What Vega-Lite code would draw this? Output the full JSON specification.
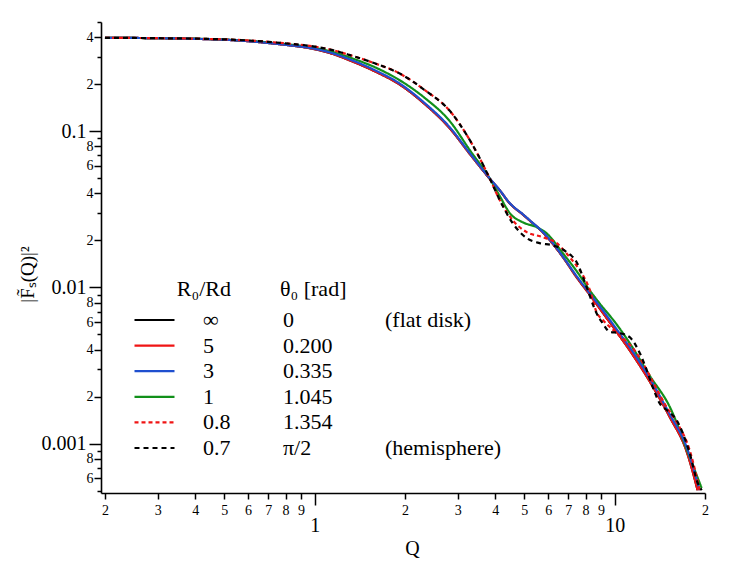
{
  "$schema": "https://vega.github.io/schema/vega-lite/v6.json",
  "width": 604,
  "height": 471,
  "autosize": {"type": "none"},
  "padding": {"left": 101, "top": 22, "right": 42, "bottom": 70},
  "background": "white",
  "config": {
    "view": {"stroke": null},
    "font": "Times New Roman",
    "style": {"guide-label": {"font": "Times New Roman"}, "guide-title": {"font": "Times New Roman"}},
    "axis": {"labelFont": "Times New Roman", "titleFont": "Times New Roman", "labelColor": "black", "titleColor": "black", "domainColor": "black", "tickColor": "black", "grid": false},
    "legend": {"labelFont": "Times New Roman", "titleFont": "Times New Roman", "labelColor": "black", "titleColor": "black", "labelFontSize": 22, "titleFontSize": 22, "titleFontWeight": "normal", "padding": 0, "rowPadding": 3.6, "titlePadding": 8, "labelLimit": 0, "clipHeight": 22}
  },
  "datasets": {
    "meta": [
      {"R": "\u221e", "theta": "0", "note": "(flat disk)"},
      {"R": "5", "theta": "0.200", "note": " "},
      {"R": "3", "theta": "0.335", "note": "  "},
      {"R": "1", "theta": "1.045", "note": "   "},
      {"R": "0.8", "theta": "1.354", "note": "    "},
      {"R": "0.7", "theta": "\u03c0/2", "note": "(hemisphere)"}
    ],
    "curves": [
      {"R": "\u221e", "Q": 0.2, "F": 0.396}, {"R": "\u221e", "Q": 0.3, "F": 0.394}, {"R": "\u221e", "Q": 0.4, "F": 0.39}, {"R": "\u221e", "Q": 0.5, "F": 0.385}, {"R": "\u221e", "Q": 0.6, "F": 0.377}, {"R": "\u221e", "Q": 0.7, "F": 0.367}, {"R": "\u221e", "Q": 0.8, "F": 0.357}, {"R": "\u221e", "Q": 1, "F": 0.335}, {"R": "\u221e", "Q": 1.15, "F": 0.312}, {"R": "\u221e", "Q": 1.31, "F": 0.284}, {"R": "\u221e", "Q": 1.585, "F": 0.242}, {"R": "\u221e", "Q": 1.92, "F": 0.199}, {"R": "\u221e", "Q": 2.33, "F": 0.149}, {"R": "\u221e", "Q": 2.82, "F": 0.1045}, {"R": "\u221e", "Q": 3.29, "F": 0.0715}, {"R": "\u221e", "Q": 3.83, "F": 0.0497}, {"R": "\u221e", "Q": 4.14, "F": 0.0418}, {"R": "\u221e", "Q": 4.47, "F": 0.0345}, {"R": "\u221e", "Q": 4.94, "F": 0.0293}, {"R": "\u221e", "Q": 5.21, "F": 0.0268}, {"R": "\u221e", "Q": 5.75, "F": 0.0226}, {"R": "\u221e", "Q": 6.22, "F": 0.019}, {"R": "\u221e", "Q": 6.71, "F": 0.0157}, {"R": "\u221e", "Q": 7.47, "F": 0.0116}, {"R": "\u221e", "Q": 8.25, "F": 0.009}, {"R": "\u221e", "Q": 9.12, "F": 0.0069}, {"R": "\u221e", "Q": 10.15, "F": 0.0052}, {"R": "\u221e", "Q": 11.22, "F": 0.00396}, {"R": "\u221e", "Q": 13.09, "F": 0.0025}, {"R": "\u221e", "Q": 15.26, "F": 0.00148}, {"R": "\u221e", "Q": 17.38, "F": 0.00089}, {"R": "\u221e", "Q": 18.9, "F": 0.000503},
      {"R": "5", "Q": 0.2, "F": 0.396}, {"R": "5", "Q": 0.3, "F": 0.394}, {"R": "5", "Q": 0.4, "F": 0.39}, {"R": "5", "Q": 0.5, "F": 0.385}, {"R": "5", "Q": 0.6, "F": 0.377}, {"R": "5", "Q": 0.7, "F": 0.367}, {"R": "5", "Q": 0.8, "F": 0.357}, {"R": "5", "Q": 1, "F": 0.335}, {"R": "5", "Q": 1.15, "F": 0.312}, {"R": "5", "Q": 1.31, "F": 0.284}, {"R": "5", "Q": 1.585, "F": 0.242}, {"R": "5", "Q": 1.92, "F": 0.199}, {"R": "5", "Q": 2.33, "F": 0.149}, {"R": "5", "Q": 2.82, "F": 0.1045}, {"R": "5", "Q": 3.29, "F": 0.0715}, {"R": "5", "Q": 3.83, "F": 0.0497}, {"R": "5", "Q": 4.14, "F": 0.0418}, {"R": "5", "Q": 4.47, "F": 0.0345}, {"R": "5", "Q": 4.94, "F": 0.0293}, {"R": "5", "Q": 5.21, "F": 0.0268}, {"R": "5", "Q": 5.75, "F": 0.0226}, {"R": "5", "Q": 6.22, "F": 0.019}, {"R": "5", "Q": 6.71, "F": 0.0157}, {"R": "5", "Q": 7.47, "F": 0.0116}, {"R": "5", "Q": 8.25, "F": 0.009}, {"R": "5", "Q": 9.12, "F": 0.0069}, {"R": "5", "Q": 10.15, "F": 0.0052}, {"R": "5", "Q": 11.22, "F": 0.00396}, {"R": "5", "Q": 13.09, "F": 0.0025}, {"R": "5", "Q": 15.26, "F": 0.00148}, {"R": "5", "Q": 17.38, "F": 0.00089}, {"R": "5", "Q": 18.9, "F": 0.000503},
      {"R": "1", "Q": 0.2, "F": 0.396}, {"R": "1", "Q": 0.3, "F": 0.394}, {"R": "1", "Q": 0.4, "F": 0.391}, {"R": "1", "Q": 0.5, "F": 0.386}, {"R": "1", "Q": 0.6, "F": 0.379}, {"R": "1", "Q": 0.7, "F": 0.37}, {"R": "1", "Q": 0.8, "F": 0.361}, {"R": "1", "Q": 1, "F": 0.341}, {"R": "1", "Q": 1.15, "F": 0.321}, {"R": "1", "Q": 1.31, "F": 0.296}, {"R": "1", "Q": 1.585, "F": 0.257}, {"R": "1", "Q": 1.92, "F": 0.212}, {"R": "1", "Q": 2.33, "F": 0.163}, {"R": "1", "Q": 2.82, "F": 0.116}, {"R": "1", "Q": 3.29, "F": 0.0756}, {"R": "1", "Q": 3.83, "F": 0.05}, {"R": "1", "Q": 4.14, "F": 0.0384}, {"R": "1", "Q": 4.47, "F": 0.0299}, {"R": "1", "Q": 4.94, "F": 0.0261}, {"R": "1", "Q": 5.5, "F": 0.0243}, {"R": "1", "Q": 5.93, "F": 0.0222}, {"R": "1", "Q": 6.71, "F": 0.0166}, {"R": "1", "Q": 7.47, "F": 0.0127}, {"R": "1", "Q": 8.25, "F": 0.0096}, {"R": "1", "Q": 8.91, "F": 0.0079}, {"R": "1", "Q": 10.15, "F": 0.0058}, {"R": "1", "Q": 11.22, "F": 0.0044}, {"R": "1", "Q": 13.09, "F": 0.00272}, {"R": "1", "Q": 15.26, "F": 0.00172}, {"R": "1", "Q": 17.78, "F": 0.00082}, {"R": "1", "Q": 19.5, "F": 0.000518},
      {"R": "3", "Q": 0.2, "F": 0.396}, {"R": "3", "Q": 0.3, "F": 0.394}, {"R": "3", "Q": 0.4, "F": 0.39}, {"R": "3", "Q": 0.5, "F": 0.385}, {"R": "3", "Q": 0.6, "F": 0.377}, {"R": "3", "Q": 0.7, "F": 0.367}, {"R": "3", "Q": 0.8, "F": 0.357}, {"R": "3", "Q": 1, "F": 0.337}, {"R": "3", "Q": 1.15, "F": 0.315}, {"R": "3", "Q": 1.31, "F": 0.288}, {"R": "3", "Q": 1.585, "F": 0.246}, {"R": "3", "Q": 1.92, "F": 0.202}, {"R": "3", "Q": 2.33, "F": 0.151}, {"R": "3", "Q": 2.82, "F": 0.106}, {"R": "3", "Q": 3.29, "F": 0.0723}, {"R": "3", "Q": 3.83, "F": 0.05}, {"R": "3", "Q": 4.14, "F": 0.0419}, {"R": "3", "Q": 4.47, "F": 0.0346}, {"R": "3", "Q": 4.94, "F": 0.0294}, {"R": "3", "Q": 5.21, "F": 0.0269}, {"R": "3", "Q": 5.75, "F": 0.0227}, {"R": "3", "Q": 6.22, "F": 0.0192}, {"R": "3", "Q": 6.71, "F": 0.0158}, {"R": "3", "Q": 7.47, "F": 0.0118}, {"R": "3", "Q": 8.25, "F": 0.00918}, {"R": "3", "Q": 9.12, "F": 0.00715}, {"R": "3", "Q": 10.15, "F": 0.0054}, {"R": "3", "Q": 11.22, "F": 0.00414}, {"R": "3", "Q": 13.09, "F": 0.00262}, {"R": "3", "Q": 15.26, "F": 0.00154}, {"R": "3", "Q": 17.38, "F": 0.000948}, {"R": "3", "Q": 19.2, "F": 0.000503},
      {"R": "0.8", "Q": 0.2, "F": 0.396}, {"R": "0.8", "Q": 0.3, "F": 0.394}, {"R": "0.8", "Q": 0.4, "F": 0.391}, {"R": "0.8", "Q": 0.5, "F": 0.387}, {"R": "0.8", "Q": 0.6, "F": 0.381}, {"R": "0.8", "Q": 0.7, "F": 0.373}, {"R": "0.8", "Q": 0.8, "F": 0.365}, {"R": "0.8", "Q": 1, "F": 0.348}, {"R": "0.8", "Q": 1.15, "F": 0.33}, {"R": "0.8", "Q": 1.31, "F": 0.307}, {"R": "0.8", "Q": 1.585, "F": 0.272}, {"R": "0.8", "Q": 1.92, "F": 0.234}, {"R": "0.8", "Q": 2.33, "F": 0.183}, {"R": "0.8", "Q": 2.82, "F": 0.135}, {"R": "0.8", "Q": 3.29, "F": 0.0876}, {"R": "0.8", "Q": 3.83, "F": 0.05}, {"R": "0.8", "Q": 4.14, "F": 0.0362}, {"R": "0.8", "Q": 4.57, "F": 0.0269}, {"R": "0.8", "Q": 5.09, "F": 0.0226}, {"R": "0.8", "Q": 5.75, "F": 0.021}, {"R": "0.8", "Q": 6.41, "F": 0.0192}, {"R": "0.8", "Q": 7.08, "F": 0.0156}, {"R": "0.8", "Q": 7.64, "F": 0.0129}, {"R": "0.8", "Q": 8.25, "F": 0.0097}, {"R": "0.8", "Q": 8.71, "F": 0.0069}, {"R": "0.8", "Q": 9.12, "F": 0.0062}, {"R": "0.8", "Q": 10.15, "F": 0.0051}, {"R": "0.8", "Q": 11.48, "F": 0.0041}, {"R": "0.8", "Q": 12.4, "F": 0.0033}, {"R": "0.8", "Q": 13.39, "F": 0.0025}, {"R": "0.8", "Q": 14.91, "F": 0.00171}, {"R": "0.8", "Q": 16.1, "F": 0.00137}, {"R": "0.8", "Q": 17.78, "F": 0.000907}, {"R": "0.8", "Q": 19.2, "F": 0.000503},
      {"R": "0.7", "Q": 0.2, "F": 0.396}, {"R": "0.7", "Q": 0.3, "F": 0.394}, {"R": "0.7", "Q": 0.4, "F": 0.391}, {"R": "0.7", "Q": 0.5, "F": 0.387}, {"R": "0.7", "Q": 0.6, "F": 0.381}, {"R": "0.7", "Q": 0.7, "F": 0.373}, {"R": "0.7", "Q": 0.8, "F": 0.365}, {"R": "0.7", "Q": 1, "F": 0.348}, {"R": "0.7", "Q": 1.15, "F": 0.33}, {"R": "0.7", "Q": 1.31, "F": 0.307}, {"R": "0.7", "Q": 1.585, "F": 0.272}, {"R": "0.7", "Q": 1.92, "F": 0.234}, {"R": "0.7", "Q": 2.33, "F": 0.183}, {"R": "0.7", "Q": 2.82, "F": 0.135}, {"R": "0.7", "Q": 3.29, "F": 0.0876}, {"R": "0.7", "Q": 3.83, "F": 0.05}, {"R": "0.7", "Q": 4.14, "F": 0.0362}, {"R": "0.7", "Q": 4.57, "F": 0.0258}, {"R": "0.7", "Q": 5.09, "F": 0.0207}, {"R": "0.7", "Q": 5.62, "F": 0.0192}, {"R": "0.7", "Q": 6.22, "F": 0.0186}, {"R": "0.7", "Q": 6.92, "F": 0.0168}, {"R": "0.7", "Q": 7.47, "F": 0.0145}, {"R": "0.7", "Q": 8.07, "F": 0.01}, {"R": "0.7", "Q": 8.71, "F": 0.0068}, {"R": "0.7", "Q": 9.12, "F": 0.0059}, {"R": "0.7", "Q": 9.62, "F": 0.0052}, {"R": "0.7", "Q": 10.39, "F": 0.0051}, {"R": "0.7", "Q": 11.22, "F": 0.0048}, {"R": "0.7", "Q": 12.12, "F": 0.0038}, {"R": "0.7", "Q": 12.79, "F": 0.00295}, {"R": "0.7", "Q": 13.39, "F": 0.0023}, {"R": "0.7", "Q": 14.13, "F": 0.00181}, {"R": "0.7", "Q": 14.91, "F": 0.00164}, {"R": "0.7", "Q": 16.1, "F": 0.00141}, {"R": "0.7", "Q": 16.86, "F": 0.00117}, {"R": "0.7", "Q": 17.78, "F": 0.00087}, {"R": "0.7", "Q": 18.91, "F": 0.00056}, {"R": "0.7", "Q": 19.5, "F": 0.000503}
    ]
  },
  "data": {"name": "curves"},
  "transform": [
    {"lookup": "R", "from": {"data": {"name": "meta"}, "key": "R", "fields": ["theta", "note"]}}
  ],
  "mark": {"type": "line", "clip": true, "interpolate": "monotone"},
  "encoding": {
    "x": {
      "field": "Q", "type": "quantitative",
      "scale": {"type": "log", "domain": [0.194, 20], "nice": false},
      "axis": {
        "title": "Q", "titleFont": "Times New Roman", "labelFont": "Times New Roman", "titleFontSize": 20, "titleFontWeight": "normal", "titleX": 311, "titleY": 55, "titleBaseline": "middle", "titleAlign": "center",
        "values": [0.2, 0.3, 0.4, 0.5, 0.6, 0.7, 0.8, 0.9, 1, 2, 3, 4, 5, 6, 7, 8, 9, 10, 20],
        "labelExpr": "datum.value == 1 ? '1' : datum.value == 10 ? '10' : format(datum.value / pow(10, floor(log(datum.value) / LN10 + 1e-9)), '.0f')",
        "labelFontSize": {"condition": {"test": "datum.value == 1 || datum.value == 10", "value": 20}, "value": 14},
        "tickSize": {"condition": {"test": "datum.value == 1 || datum.value == 10", "value": 12}, "value": 6},
        "labelPadding": {"condition": {"test": "datum.value == 1 || datum.value == 10", "value": 10}, "value": 4},
        "labelOverlap": false, "labelFlush": false, "labelBound": false,
        "domainWidth": 1.6, "tickWidth": 1.5
      }
    },
    "y": {
      "field": "F", "type": "quantitative",
      "scale": {"type": "log", "domain": [0.000483, 0.5], "nice": false},
      "axis": {
        "title": "|F\u0303\u209b(Q)|\u00b2", "titleFont": "Times New Roman", "labelFont": "Times New Roman", "titleFontSize": 19, "titleFontWeight": "normal", "titleX": -74, "titleY": 252, "titleAngle": -90, "titleBaseline": "middle", "titleAlign": "center",
        "values": [0.0005, 0.0006, 0.0007, 0.0008, 0.0009, 0.001, 0.002, 0.003, 0.004, 0.005, 0.006, 0.007, 0.008, 0.009, 0.01, 0.02, 0.03, 0.04, 0.05, 0.06, 0.07, 0.08, 0.09, 0.1, 0.2, 0.3, 0.4, 0.5],
        "labelExpr": "round(datum.value / pow(10, floor(log(datum.value) / LN10 + 1e-9))) == 1 ? (datum.value > 0.05 ? '0.1' : datum.value > 0.005 ? '0.01' : '0.001') : (round(datum.value / pow(10, floor(log(datum.value) / LN10 + 1e-9))) % 2 == 0 ? '' + round(datum.value / pow(10, floor(log(datum.value) / LN10 + 1e-9))) : '')",
        "labelFontSize": {"condition": {"test": "round(datum.value / pow(10, floor(log(datum.value) / LN10 + 1e-9))) == 1", "value": 20}, "value": 14},
        "tickSize": {"condition": [
          {"test": "round(datum.value / pow(10, floor(log(datum.value) / LN10 + 1e-9))) == 1", "value": 12},
          {"test": "round(datum.value / pow(10, floor(log(datum.value) / LN10 + 1e-9))) % 2 == 0", "value": 7}
        ], "value": 4},
        "labelPadding": {"condition": {"test": "round(datum.value / pow(10, floor(log(datum.value) / LN10 + 1e-9))) == 1", "value": 3}, "value": 1},
        "labelOverlap": false, "labelFlush": false, "labelBound": false,
        "domainWidth": 1.6, "tickWidth": 1.5
      }
    },
    "color": {
      "field": "R", "type": "nominal",
      "scale": {"domain": ["\u221e", "5", "3", "1", "0.8", "0.7"], "range": ["#000000", "#f01414", "#1f4fcf", "#11901a", "#f01414", "#000000"]},
      "legend": {"title": "R\u2080/Rd", "labelFont": "Times New Roman", "titleFont": "Times New Roman", "orient": "none", "legendX": 32, "legendY": 257, "symbolType": "stroke", "symbolSize": 1600, "symbolStrokeWidth": 2.2, "labelOffset": 27, "titleAnchor": "end"}
    },
    "strokeDash": {
      "field": "R", "type": "nominal",
      "scale": {"domain": ["\u221e", "5", "3", "1", "0.8", "0.7"], "range": [[1, 0], [1, 0], [1, 0], [1, 0], [4, 3], [5, 4]]}
    },
    "opacity": {
      "field": "theta", "type": "nominal",
      "scale": {"domain": ["0", "0.200", "0.335", "1.045", "1.354", "\u03c0/2"], "range": [1, 1]},
      "legend": {"title": "\u03b8\u2080 [rad]", "labelFont": "Times New Roman", "titleFont": "Times New Roman", "orient": "none", "legendX": 179, "legendY": 257, "symbolType": "circle", "symbolSize": 0, "symbolStrokeWidth": 0, "symbolFillColor": "transparent", "symbolStrokeColor": "transparent", "labelOffset": -19}
    },
    "strokeWidth": {
      "field": "note", "type": "nominal",
      "scale": {"domain": ["(flat disk)", " ", "  ", "   ", "    ", "(hemisphere)"], "range": [2.2, 2.2]},
      "legend": {"title": " ", "labelFont": "Times New Roman", "titleFont": "Times New Roman", "orient": "none", "legendX": 281, "legendY": 257, "symbolType": "circle", "symbolSize": 0, "symbolStrokeWidth": 0, "symbolFillColor": "transparent", "symbolStrokeColor": "transparent", "labelOffset": -19}
    }
  }
}
